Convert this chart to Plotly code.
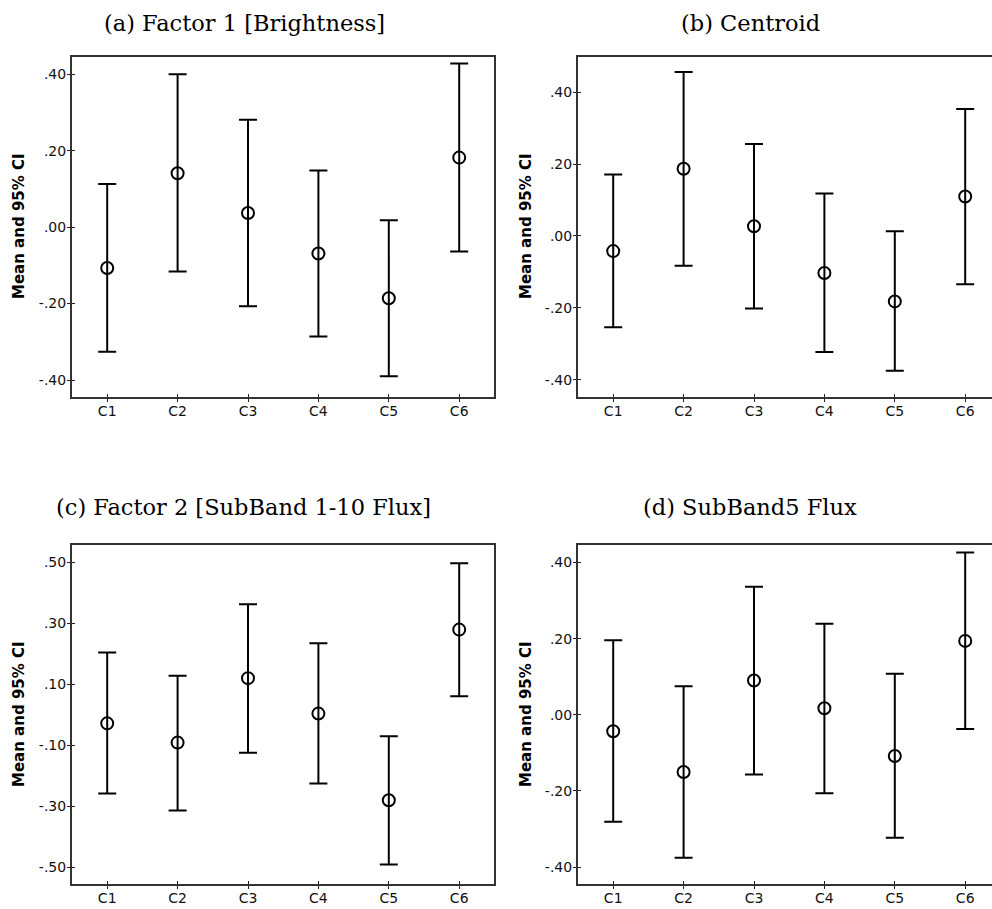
import plotly.graph_objects as go

W, H = 992, 909

categories = ["C1", "C2", "C3", "C4", "C5", "C6"]

# Panel (a) Factor 1 [Brightness]
a_mean = [-0.107, 0.141, 0.037, -0.069, -0.186, 0.182]
a_upper = [0.113, 0.400, 0.281, 0.148, 0.018, 0.428]
a_lower = [-0.326, -0.116, -0.207, -0.286, -0.390, -0.064]

# Panel (b) Centroid
b_mean = [-0.042, 0.187, 0.027, -0.103, -0.182, 0.110]
b_upper = [0.171, 0.456, 0.256, 0.118, 0.013, 0.353]
b_lower = [-0.254, -0.083, -0.202, -0.323, -0.375, -0.134]

# Panel (c) Factor 2 [SubBand 1-10 Flux]
c_mean = [-0.028, -0.091, 0.120, 0.004, -0.280, 0.279]
c_upper = [0.204, 0.128, 0.362, 0.234, -0.070, 0.496]
c_lower = [-0.258, -0.313, -0.124, -0.225, -0.490, 0.061]

# Panel (d) SubBand5 Flux
d_mean = [-0.043, -0.150, 0.090, 0.017, -0.108, 0.194]
d_upper = [0.196, 0.075, 0.336, 0.239, 0.108, 0.426]
d_lower = [-0.281, -0.375, -0.157, -0.206, -0.323, -0.037]

ticks_040 = [-0.40, -0.20, 0.00, 0.20, 0.40]
ticklabels_040 = ["-.40", "-.20", ".00", ".20", ".40"]
ticks_050 = [-0.50, -0.30, -0.10, 0.10, 0.30, 0.50]
ticklabels_050 = ["-.50", "-.30", "-.10", ".10", ".30", ".50"]

titles = ["(a) Factor 1 [Brightness]", "(b) Centroid",
          "(c) Factor 2 [SubBand 1-10 Flux]", "(d) SubBand5 Flux"]
y_title = "Mean and 95% CI"

panels = [
    dict(mean=a_mean, up=a_upper, lo=a_lower, px=(72, 494), py=(57.3, 397),
         yr=[-0.4445, 0.4445], tv=ticks_040, tt=ticklabels_040, right=True,
         tpos=(244, 23), ylab=(19, 226)),
    dict(mean=b_mean, up=b_upper, lo=b_lower, px=(578, 992), py=(57.3, 396.7),
         yr=[-0.447, 0.497], tv=ticks_040, tt=ticklabels_040, right=False,
         tpos=(750, 23), ylab=(526, 226)),
    dict(mean=c_mean, up=c_upper, lo=c_lower, px=(72, 494), py=(545.3, 884.3),
         yr=[-0.555, 0.555], tv=ticks_050, tt=ticklabels_050, right=True,
         tpos=(243, 507), ylab=(19, 714)),
    dict(mean=d_mean, up=d_upper, lo=d_lower, px=(578, 992), py=(545.3, 884.3),
         yr=[-0.445, 0.445], tv=ticks_040, tt=ticklabels_040, right=False,
         tpos=(750, 507), ylab=(526, 714)),
]

fig = go.Figure()
layout = {}
annotations = []
spacing = 70.4
frame_color = "#333333"
tick_font = dict(family="DejaVu Sans", size=14, color="#111111")

for i, p in enumerate(panels, start=1):
    xs = "" if i == 1 else str(i)
    x0, x1 = p["px"]
    ytop, ybot = p["py"]
    n_last = (x1 - x0) / spacing - 0.5
    xr = [-0.5, n_last]
    xdom = [x0 / W, x1 / W]
    ydom = [(H - ybot) / H, (H - ytop) / H]
    err_plus = [u - m for u, m in zip(p["up"], p["mean"])]
    err_minus = [m - l for m, l in zip(p["mean"], p["lo"])]
    xidx = list(range(len(categories)))
    fig.add_trace(go.Scatter(
        x=xidx, y=p["mean"], mode="markers",
        marker=dict(symbol="circle-open", size=12, color="black",
                    line=dict(width=2, color="black")),
        error_y=dict(type="data", symmetric=False, array=err_plus,
                     arrayminus=err_minus, thickness=2, width=9, color="black"),
        xaxis="x" + xs, yaxis="y" + xs, showlegend=False, hoverinfo="skip",
    ))
    layout["xaxis" + xs] = dict(
        domain=xdom, range=xr, anchor="y" + xs, showgrid=False, zeroline=False,
        showline=True, linecolor=frame_color, linewidth=2, mirror=True,
        ticks="outside", ticklen=3, tickwidth=1.2, tickcolor="#222222",
        tickvals=xidx, ticktext=categories, tickfont=tick_font,
        ticklabelstandoff=-3,
    )
    layout["yaxis" + xs] = dict(
        domain=ydom, range=p["yr"], anchor="x" + xs, showgrid=False, zeroline=False,
        showline=True, linecolor=frame_color, linewidth=2, mirror=p["right"],
        ticks="outside", ticklen=3, tickwidth=1.2, tickcolor="#222222",
        tickvals=p["tv"], ticktext=p["tt"], tickfont=tick_font,
        ticklabelstandoff=-2,
    )
    # inside halves of crossing ticks
    k = i + 4
    fig.add_trace(go.Scatter(x=[None], y=[None], xaxis="x%d" % k, yaxis="y%d" % k,
                             showlegend=False, hoverinfo="skip"))
    layout["xaxis%d" % k] = dict(
        domain=xdom, range=xr, anchor="y%d" % k, overlaying="x" + xs,
        showgrid=False, zeroline=False, showline=False, showticklabels=False,
        ticks="inside", ticklen=3, tickwidth=1.2, tickcolor="#222222", tickvals=xidx,
    )
    layout["yaxis%d" % k] = dict(
        domain=ydom, range=p["yr"], anchor="x%d" % k, overlaying="y" + xs,
        showgrid=False, zeroline=False, showline=False, showticklabels=False,
        ticks="inside", ticklen=3, tickwidth=1.2, tickcolor="#222222", tickvals=p["tv"],
    )
    annotations.append(dict(
        text=titles[i - 1], x=p["tpos"][0] / W, y=(H - p["tpos"][1]) / H,
        xref="paper", yref="paper", xanchor="center", yanchor="middle",
        showarrow=False, font=dict(family="DejaVu Serif", size=22.5, color="black"),
    ))
    annotations.append(dict(
        text="<b>" + y_title + "</b>", x=p["ylab"][0] / W, y=(H - p["ylab"][1]) / H,
        xref="paper", yref="paper", xanchor="center", yanchor="middle",
        textangle=-90, showarrow=False,
        font=dict(family="DejaVu Sans", size=15, color="black"),
    ))

fig.update_layout(
    width=W, height=H, margin=dict(l=0, r=0, t=0, b=0),
    paper_bgcolor="white", plot_bgcolor="white",
    annotations=annotations, **layout,
)

fig.write_html(
    "out.html",
    config={"displayModeBar": False},
    post_script="document.body.style.margin='0';document.body.style.overflow='hidden';",
)
